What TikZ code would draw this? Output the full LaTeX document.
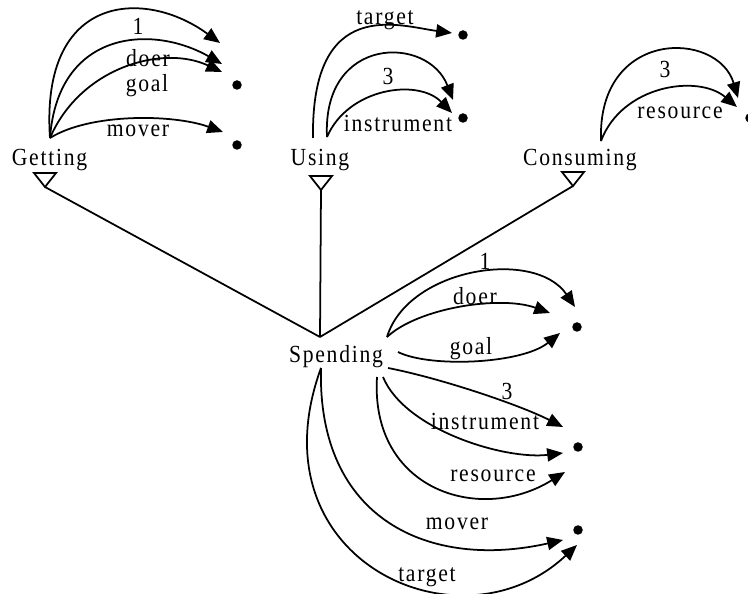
\documentclass[tikz,border=0pt]{standalone}
\usepackage{fontspec}
\setmainfont{Liberation Serif}[LetterSpace=7,FakeStretch=0.88]
\usetikzlibrary{arrows.meta}

\begin{document}
\begin{tikzpicture}[x=0.02cm,y=-0.02cm,line width=1pt,
  arr/.style={-{Triangle[length=9pt,width=7.5pt]}},
  lbl/.style={anchor=base,inner sep=0pt,font=\fontsize{14}{16}\selectfont},
  dot/.style={circle,fill=black,inner sep=0pt,minimum size=0.19cm}]
  \useasboundingbox (0,0) rectangle (748,594);

  % frames
  \node[lbl] (get) at (49.5,166) {Getting};
  \node[lbl] (use) at (320,166)  {Using};
  \node[lbl] (con) at (580,166)  {Consuming};
  \node[lbl] (spe) at (336,363)  {Spending};

  % inheritance
  \coordinate (getT) at (45,187);
  \coordinate (useT) at (321,190);
  \coordinate (conT) at (573,186);
  \coordinate (speV) at (320,337);
  \foreach \t in {getT,useT,conT}{
    \draw (\t) -- +(-11,-14) -- +(11,-14) -- cycle;
    \draw (\t) -- (speV);
  }

  % fillers
  \node[dot] (gd1) at (237,85)  {};
  \node[dot] (gd2) at (237,145) {};
  \node[dot] (ud1) at (463,35)  {};
  \node[dot] (ud2) at (463,118) {};
  \node[dot] (cd1) at (750,118) {};
  \node[dot] (sd1) at (577,327) {};
  \node[dot] (sd2) at (578,447) {};
  \node[dot] (sd3) at (578,530) {};

  % Getting roles
  \coordinate (gS) at (50,138);
  \coordinate (g1) at (220,43);
  \coordinate (g2) at (222,64);
  \coordinate (g3) at (222,72);
  \coordinate (g4) at (223,132);
  \draw[arr] (gS) .. controls +(-10,-145) and +(-75,-55) .. (g1);
  \draw[arr] (gS) .. controls +(8,-108) and +(-70,-40) .. (g2);
  \draw[arr] (gS) .. controls +(30,-70) and +(-60,-28) .. (g3);
  \draw[arr] (gS) .. controls +(40,-25) and +(-50,-18) .. (g4);
  \node[lbl] at (138,35)  {1};
  \node[lbl] at (148,67)  {doer};
  \node[lbl] at (147,92)  {goal};
  \node[lbl] at (138,137) {mover};

  % Using roles
  \coordinate (uS1) at (313,138);
  \coordinate (uS2) at (327,137);
  \coordinate (u1) at (452,33);
  \coordinate (u2) at (453,100);
  \coordinate (u3) at (452,113);
  \draw[arr] (uS1) .. controls +(-2,-143) and +(-52,-7) .. (u1);
  \draw[arr] (uS2) .. controls +(-5,-102) and +(-25,-65) .. (u2);
  \draw[arr] (uS2) .. controls +(21,-49) and +(-34,-35) .. (u3);
  \node[lbl] at (385,25)  {target};
  \node[lbl] at (388,85)  {3};
  \node[lbl] at (398,132) {instrument};

  % Consuming roles
  \coordinate (cS) at (601,141);
  \coordinate (c1) at (738,98);
  \coordinate (c2) at (737,107);
  \draw[arr] (cS) .. controls +(-4,-113) and +(-20,-68) .. (c1);
  \draw[arr] (cS) .. controls +(21,-56) and +(-39,-33) .. (c2);
  \node[lbl] at (665,78)  {3};
  \node[lbl] at (680,119) {resource};

  % Spending roles
  \coordinate (sA) at (387,337);
  \coordinate (sB) at (398,352);
  \coordinate (sC) at (388,368);
  \coordinate (sD) at (383,377);
  \coordinate (sE) at (377,377);
  \coordinate (sF) at (321,368);
  \coordinate (s1) at (575,307);
  \coordinate (s2) at (550,313);
  \coordinate (s3) at (560,333);
  \coordinate (s4) at (563,427);
  \coordinate (s5) at (563,453);
  \coordinate (s6) at (565,472);
  \coordinate (s7) at (563,540);
  \coordinate (s8) at (577,545);
  \draw[arr] (sA) .. controls +(21,-69) and +(-40,-59) .. (s1);
  \draw[arr] (sA) .. controls +(31,-29) and +(-50,-18) .. (s2);
  \draw[arr] (sB) .. controls +(32,16) and +(-38,31) .. (s3);
  \draw[arr] (sC) .. controls +(52,10) and +(-43,-22) .. (s4);
  \draw[arr] (sD) .. controls +(22,53) and +(-58,7) .. (s5);
  \draw[arr] (sE) .. controls +(-7,113) and +(-85,53) .. (s6);
  \draw[arr] (sF) .. controls +(-4,152) and +(-133,30) .. (s7);
  \draw[arr] (sF) .. controls +(-70,192) and +(-117,110) .. (s8);
  \node[lbl] at (485,270) {1};
  \node[lbl] at (475,305) {doer};
  \node[lbl] at (471,355) {goal};
  \node[lbl] at (507,400) {3};
  \node[lbl] at (485,430) {instrument};
  \node[lbl] at (493,482) {resource};
  \node[lbl] at (457,530) {mover};
  \node[lbl] at (427,582) {target};
\end{tikzpicture}
\end{document}
